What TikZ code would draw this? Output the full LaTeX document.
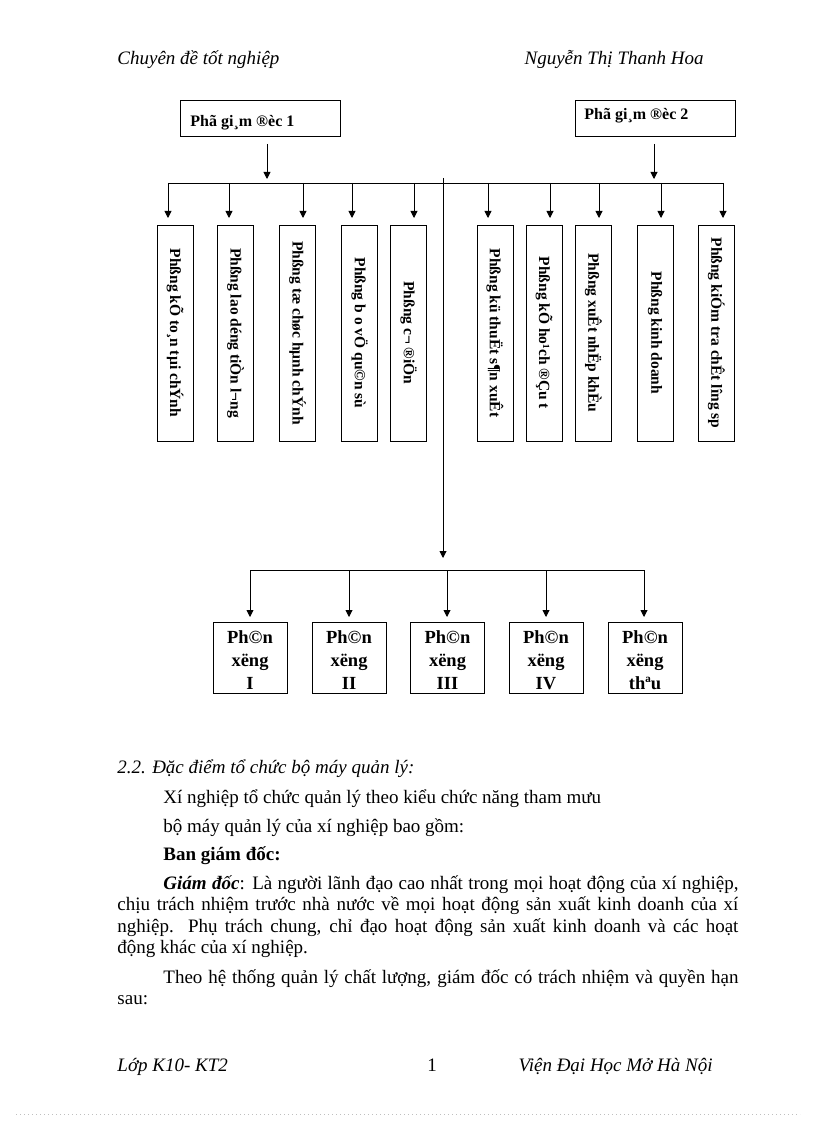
\documentclass[tikz,border=0pt]{standalone}
\usepackage{fontspec}
\setmainfont{Liberation Serif}
\usetikzlibrary{arrows.meta}
\begin{document}
\begin{tikzpicture}[x=1pt,y=-1pt,
  line width=0.9pt,
  arr/.style={-{Triangle[length=7pt,width=7pt]}},
  topbox/.style={draw, minimum width=160pt, minimum height=36pt, inner sep=0pt},
  toptext/.style={font=\fontsize{16}{18}\selectfont\bfseries, anchor=west, inner sep=0pt},
  vbox/.style={draw, rotate=-90, minimum width=216pt, minimum height=36pt, inner sep=0pt,
     font=\fontsize{15.5}{17}\selectfont\bfseries},
  wbox/.style={draw, minimum width=74pt, minimum height=71pt, inner sep=0pt},
  wtext/.style={align=center, inner sep=0pt, font=\fontsize{18.5}{23}\selectfont\bfseries},
  hdr/.style={font=\fontsize{19}{22}\selectfont\itshape, inner sep=0pt},
  body/.style={font=\fontsize{19}{22}\selectfont, inner sep=0pt, anchor=base west},
]
\useasboundingbox (0,0) rectangle (816,1123);
% header
\node[hdr, anchor=base west] (h1) at (117,65) {Chuyên đề tốt nghiệp};
\node[hdr, anchor=base east] (h2) at (704,65) {Nguyễn Thị Thanh Hoa};

% top boxes
\node[topbox] (pgd1) at (260,118) {};
\node[toptext] (t1) at (190,123) {Phã gi¸m ®èc 1};
\node[topbox] (pgd2) at (655,118) {};
\node[toptext] (t2) at (584,116) {Phã gi¸m ®èc 2};

\coordinate (a1s) at (267,144); \coordinate (a1e) at (267,179);
\coordinate (a2s) at (654,144); \coordinate (a2e) at (654,179);
\draw[arr] (a1s) -- (a1e);
\draw[arr] (a2s) -- (a2e);

% top bus
\coordinate (busL) at (168,183); \coordinate (busR) at (723,183);
\draw (busL) -- (busR);

% vertical boxes
\node[vbox] (b1) at (175,333) {Phßng kÕ to¸n tµi chÝnh};
\node[vbox] (b2) at (235.5,333) {Phßng lao déng tiÒn l¬ng};
\node[vbox] (b3) at (297.5,333) {Phßng tæ chøc hµnh chÝnh};
\node[vbox] (b4) at (359.5,333) {Phßng b o vÖ qu©n sù};
\node[vbox] (b5) at (408.5,333) {Phßng c¬ ®iÖn};
\node[vbox] (b6) at (495,333) {Phßng kü thuËt s¶n xuÊt};
\node[vbox] (b7) at (544,333) {Phßng kÕ ho¹ch ®Çu t};
\node[vbox] (b8) at (593.5,333) {Phßng xuÊt nhËp khÈu};
\node[vbox] (b9) at (655,333) {Phßng kinh doanh};
\node[vbox] (b10) at (716.5,333) {Phßng kiÓm tra chÊt lîng  sp};

\foreach \x/\n in {168/1,229/2,303/3,352/4,414/5,488/6,550/7,599/8,661/9,723/10}{
  \coordinate (s\n) at (\x,183);
  \coordinate (e\n) at (\x,218);
  \draw[arr] (s\n) -- (e\n);
}

% central line
\coordinate (cTop) at (443,178); \coordinate (cBot) at (443,558);
\draw[arr] (cTop) -- (cBot);

% bottom bus
\coordinate (bbL) at (250,570); \coordinate (bbR) at (644,570);
\draw (bbL) -- (bbR);

\foreach \x/\n/\t in {250/1/I,349/2/II,447.5/3/III,546/4/IV,645/5/thªu}{
  \node[wbox] (w\n) at (\x,657.5) {};
  \node[wtext] (wt\n) at (\x,660.5) {Ph©n\\xëng\\\t};
}

\foreach \x/\n in {250/1,349/2,447/3,546/4,644/5}{
  \coordinate (p\n) at (\x,570);
  \coordinate (q\n) at (\x,617);
  \draw[arr] (p\n) -- (q\n);
}

% body text
\node[body, font=\fontsize{19}{22}\selectfont\itshape] (l0) at (117,773) {2.2. Đặc điểm tổ chức bộ máy quản lý:};
\node[body] (l1) at (163,803) {Xí nghiệp  tổ chức quản lý theo kiểu  chức năng tham mưu};
\node[body] (l2) at (163,832) {bộ máy quản lý của xí nghiệp bao gồm:};
\node[body, font=\fontsize{19}{22}\selectfont\bfseries] (l3) at (163,860) {Ban giám đốc:};
\node[body] (l4) at (163,889) {\makebox[575pt][s]{\textbf{\textit{Giám đốc}}: Là người lãnh đạo cao nhất trong mọi hoạt động của xí nghiệp,}};
\node[body] (l5) at (117,910.5) {\makebox[621pt][s]{chịu trách nhiệm trước nhà nước về mọi hoạt động sản xuất kinh doanh của xí}};
\node[body] (l6) at (117,932) {\makebox[621pt][s]{nghiệp. Phụ trách chung, chỉ đạo hoạt động sản xuất kinh doanh và các hoạt}};
\node[body] (l7) at (117,953.5) {động khác của xí nghiệp.};
\node[body] (l8) at (163,983) {\makebox[575pt][s]{Theo hệ thống quản lý chất lượng, giám đốc có trách nhiệm và quyền hạn}};
\node[body] (l9) at (117,1004.5) {sau:};

% footer
\node[hdr, anchor=base west] (f1) at (117,1071) {Lớp K10- KT2};
\node[body, anchor=base] (f2) at (432,1071) {1};
\node[hdr, anchor=base east] (f3) at (713,1071) {Viện Đại Học Mở Hà Nội};

% dotted rule
\draw[gray!50, line width=0.6pt, dash pattern=on 0.8pt off 3.2pt] (16,1114) -- (800,1114);
\end{tikzpicture}
\end{document}
